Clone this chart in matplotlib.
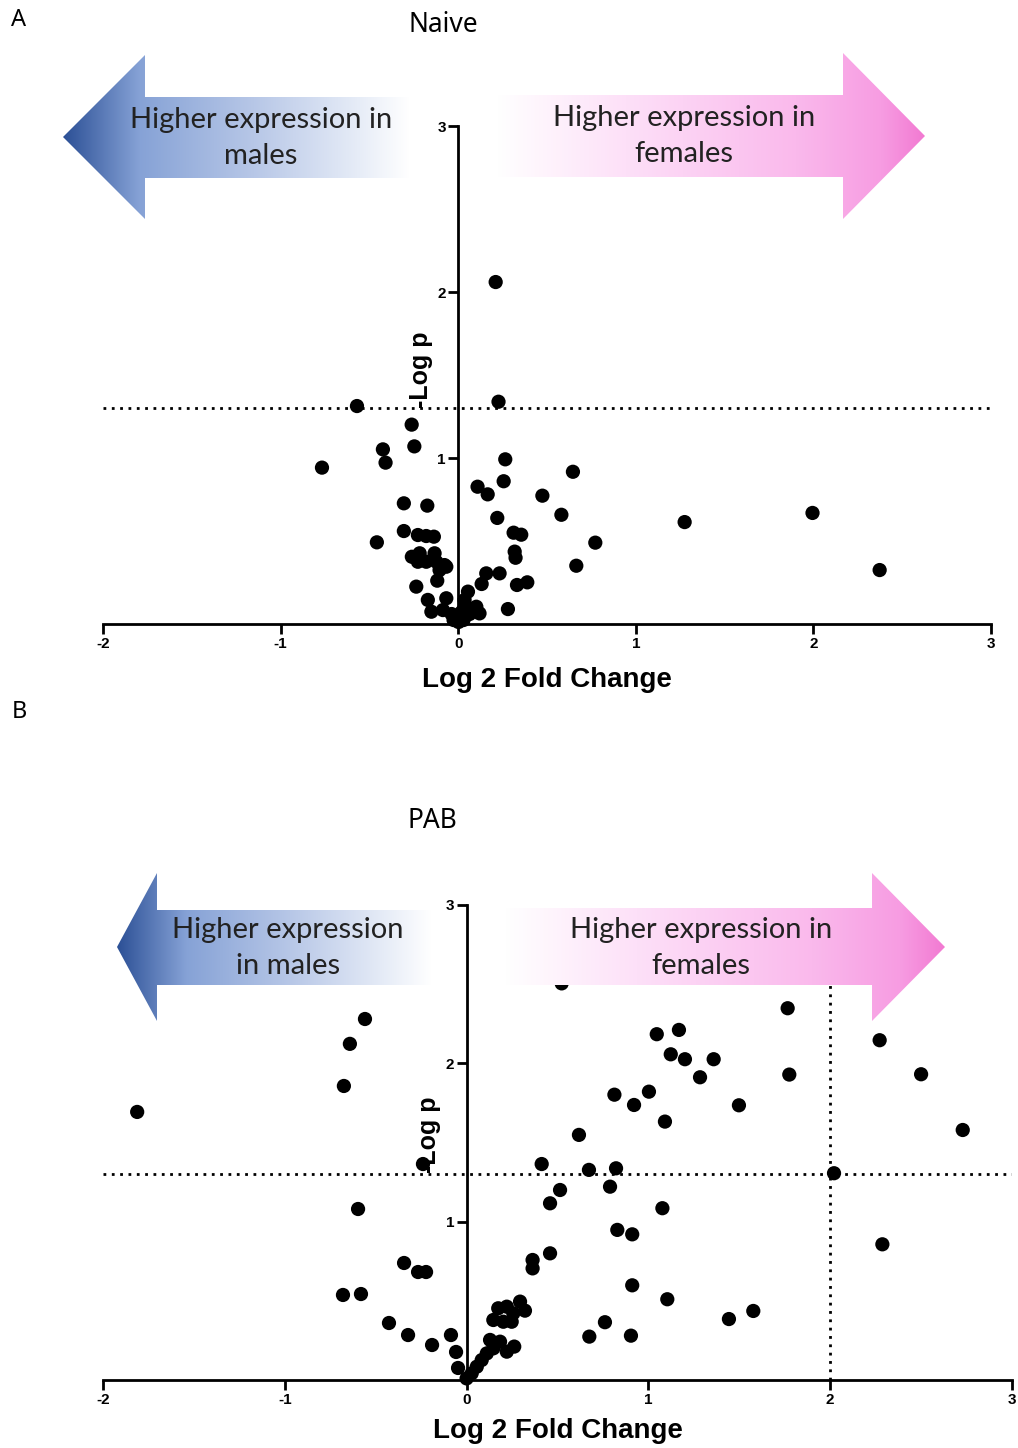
import numpy as np
import matplotlib
matplotlib.use("Agg")
import matplotlib.pyplot as plt
from matplotlib.patches import Polygon
from matplotlib.colors import LinearSegmentedColormap

# ---------------- data ----------------
naive_x = [-0.570, 0.227, 0.211, -0.767, -0.262, -0.247, -0.424, -0.409, 0.265, 0.646,
           0.109, 0.166, 0.256, 0.474, -0.306, -0.174, 0.581, 0.220, 1.275, 1.995,
           -0.306, -0.227, -0.180, -0.137, -0.458, 0.312, 0.355, 0.772, 0.318, 0.323,
           -0.261, -0.217, -0.227, -0.180, -0.133, -0.123, -0.077, -0.105, 0.665, 2.373,
           0.158, 0.132, 0.233, 0.331, 0.389, -0.236, -0.118, -0.171, -0.067, -0.151,
           -0.086, 0.055, 0.280, 0.102, 0.120, -0.037, -0.009, 0.019, 0.042, 0.064,
           0.002, -0.026, 0.030, 0.036, -0.067]
naive_y = [1.313, 1.339, 2.060, 0.942, 1.201, 1.070, 1.052, 0.972, 0.992, 0.917,
           0.827, 0.781, 0.860, 0.773, 0.727, 0.713, 0.658, 0.639, 0.614, 0.669,
           0.560, 0.536, 0.530, 0.526, 0.492, 0.550, 0.538, 0.490, 0.436, 0.399,
           0.405, 0.426, 0.375, 0.375, 0.426, 0.375, 0.355, 0.325, 0.351, 0.325,
           0.305, 0.241, 0.305, 0.235, 0.251, 0.225, 0.261, 0.145, 0.155, 0.074,
           0.084, 0.195, 0.090, 0.104, 0.064, 0.060, 0.036, 0.072, 0.108, 0.060,
           0.012, 0.024, 0.024, 0.145, 0.345]

pab_x = [-1.812, -0.559, -0.642, -0.675, -0.240, -0.597, -0.344, -0.267, -0.223, -0.680,
         -0.581, -0.427, -0.322, -0.190, -0.086, -0.058, -0.047,
         0.523, 1.766, 1.046, 1.168, 1.123, 1.201, 1.359, 1.284, 1.775, 2.272,
         2.500, 2.729, 1.498, 0.813, 1.003, 0.921, 1.091, 0.618, 0.413, 0.673,
         0.822, 2.021, 0.514, 0.459, 0.789, 1.077, 0.829, 0.911, 2.287, 0.459,
         0.363, 0.363, 0.911, 1.104, 1.577, 1.443, 0.761, 0.675, 0.904, 0.262,
         0.147, 0.174, 0.221, 0.294, 0.321, 0.257, 0.202, 0.248,
         0.129, 0.184, 0.221, 0.147, 0.111, 0.083, 0.056, 0.028, 0.000]
pab_y = [1.693, 2.280, 2.123, 1.857, 1.364, 1.080, 0.739, 0.682, 0.682, 0.537,
         0.543, 0.360, 0.284, 0.221, 0.284, 0.177, 0.076,
         2.505, 2.348, 2.184, 2.211, 2.057, 2.026, 2.026, 1.912, 1.929, 2.146,
         1.931, 1.579, 1.735, 1.802, 1.821, 1.737, 1.632, 1.548, 1.364, 1.327,
         1.337, 1.306, 1.200, 1.116, 1.221, 1.085, 0.948, 0.920, 0.857, 0.800,
         0.758, 0.705, 0.598, 0.510, 0.436, 0.385, 0.365, 0.274, 0.280, 0.211,
         0.379, 0.453, 0.463, 0.495, 0.438, 0.421, 0.368, 0.368,
         0.253, 0.242, 0.179, 0.200, 0.168, 0.126, 0.084, 0.042, 0.010]

x_ticks = [-2, -1, 0, 1, 2, 3]
x_ticklabels = ["-2", "-1", "0", "1", "2", "3"]
y_ticks = [1, 2, 3]
y_ticklabels = ["1", "2", "3"]
p_threshold = -np.log10(0.05)
fc_threshold = 2

W, H = 1018, 1448
fig = plt.figure(figsize=(W / 100, H / 100), dpi=100)

AXFONT = ["Liberation Sans", "DejaVu Sans"]


def style_axes(ax, labelpad):
    ax.set_xlim(-2, 3)
    ax.set_ylim(0, 3)
    ax.spines["left"].set_position(("data", 0))
    for s in ("top", "right"):
        ax.spines[s].set_visible(False)
    for s in ("left", "bottom"):
        ax.spines[s].set_linewidth(2.0)
    ax.set_xticks(x_ticks)
    ax.set_xticklabels(x_ticklabels, fontsize=11, fontweight="bold", family=AXFONT)
    ax.set_yticks(y_ticks)
    ax.set_yticklabels(y_ticklabels, fontsize=11, fontweight="bold", family=AXFONT)
    ax.tick_params(axis="both", direction="out", length=7, width=2, pad=2)
    ax.set_xlabel("Log 2 Fold Change", fontsize=20, fontweight="bold", family=AXFONT,
                  labelpad=labelpad)
    ax.set_ylabel("-Log p", fontsize=18, fontweight="bold", family=AXFONT)
    ax.patch.set_alpha(0)


# Panel A
axA = fig.add_axes([103 / W, 1 - 624 / H, (991 - 103) / W, (624 - 126) / H])
style_axes(axA, 12)
axA.axhline(p_threshold, color="black", ls=(0, (1, 2)), lw=2, zorder=1)
axA.scatter(naive_x, naive_y, s=105, color="black", zorder=3, clip_on=False,
            edgecolors="none")
axA.yaxis.set_label_coords((433 - 103) / (991 - 103), (624 - 370) / (624 - 126))

# Panel B
axB = fig.add_axes([103 / W, 1 - 1380 / H, (1012 - 103) / W, (1380 - 905) / H])
style_axes(axB, 8)
axB.axhline(p_threshold, color="black", ls=(0, (1, 2)), lw=2, zorder=1)
axB.plot([fc_threshold, fc_threshold], [0, 3], color="black", ls=(0, (1, 2)), lw=2,
         zorder=1)
axB.scatter(pab_x, pab_y, s=105, color="black", zorder=3, clip_on=False,
            edgecolors="none")
axB.yaxis.set_label_coords((441 - 103) / (1012 - 103), (1380 - 1135) / (1380 - 905))

# ---------------- overlay (arrows, titles) ----------------
ov = fig.add_axes([0, 0, 1, 1], zorder=10)
ov.set_xlim(0, W)
ov.set_ylim(H, 0)
ov.axis("off")
ov.patch.set_alpha(0)

blue_cmap = LinearSegmentedColormap.from_list(
    "blue", [(0.0, "#2c5096"), (0.22, "#86a2d6"), (0.55, "#b7c7e7"),
             (0.85, "#e6ecf7"), (1.0, "#ffffff")])
pink_cmap = LinearSegmentedColormap.from_list(
    "pink", [(0.0, "#ffffff"), (0.3, "#fde0f8"), (0.7, "#fab9ec"),
             (0.9, "#f79ce2"), (1.0, "#f27ad2")])


def grad_arrow(pts, cmap):
    pts = np.array(pts, float)
    poly = Polygon(pts, closed=True, facecolor="none", edgecolor="none")
    ov.add_patch(poly)
    x0, x1 = pts[:, 0].min(), pts[:, 0].max()
    y0, y1 = pts[:, 1].min(), pts[:, 1].max()
    grad = np.linspace(0, 1, 256).reshape(1, -1)
    im = ov.imshow(grad, cmap=cmap, extent=[x0, x1, y1, y0], aspect="auto",
                   interpolation="bilinear", zorder=1)
    im.set_clip_path(poly)


def left_arrow(tip_x, cy, head_x, head_half, shaft_top, shaft_bot, end_x):
    return [(tip_x, cy), (head_x, cy - head_half), (head_x, shaft_top), (end_x, shaft_top),
            (end_x, shaft_bot), (head_x, shaft_bot), (head_x, cy + head_half)]


def right_arrow(start_x, cy, head_x, head_half, shaft_top, shaft_bot, tip_x):
    return [(start_x, shaft_top), (head_x, shaft_top), (head_x, cy - head_half), (tip_x, cy),
            (head_x, cy + head_half), (head_x, shaft_bot), (start_x, shaft_bot)]


grad_arrow(left_arrow(63, 137, 145, 82, 97, 178, 410), blue_cmap)
grad_arrow(right_arrow(497, 136, 843, 83, 95, 177, 925), pink_cmap)
grad_arrow(left_arrow(117, 947, 157, 74, 910, 985, 432), blue_cmap)
grad_arrow(right_arrow(505, 947, 872, 74, 908, 985, 945), pink_cmap)

ARFONT = ["Lato", "DejaVu Sans"]
atxt = dict(fontsize=21, family=ARFONT, color="#222222", ha="center", va="center",
            linespacing=1.45, zorder=5)
ov.text(261, 138, "Higher expression in\nmales", **atxt)
ov.text(684, 136, "Higher expression in\nfemales", **atxt)
ov.text(288, 948, "Higher expression\nin males", **atxt)
ov.text(701, 948, "Higher expression in\nfemales", **atxt)

TFONT = ["Noto Sans", "DejaVu Sans"]
ov.text(443, 25, "Naive", fontsize=19, family=TFONT, ha="center", va="center")
ov.text(432, 821, "PAB", fontsize=19, family=TFONT, ha="center", va="center")
ov.text(19, 20, "A", fontsize=17, family=TFONT, ha="center", va="center")
ov.text(19, 712, "B", fontsize=17, family=TFONT, ha="center", va="center")

fig.savefig("out.png", dpi=100)
